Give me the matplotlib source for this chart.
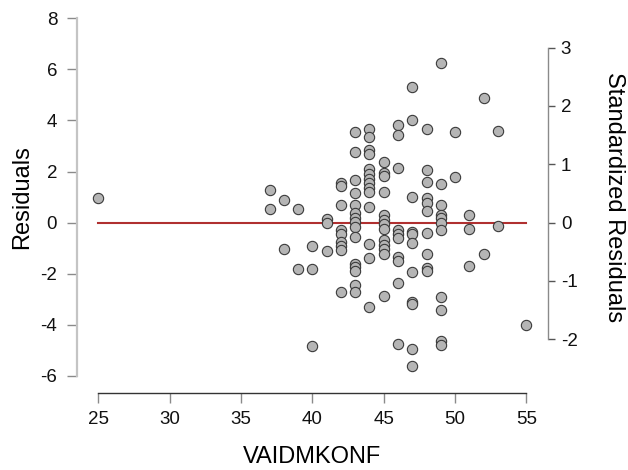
import matplotlib
matplotlib.use("Agg")
import matplotlib.pyplot as plt

plt.rcParams["font.family"] = ["Liberation Sans", "DejaVu Sans"]
plt.rcParams["axes.unicode_minus"] = False

# Predictor values and model residuals
vaidmkonf = (
    [25] + [37] * 2 + [38] * 2 + [39] * 2 + [40] * 3 + [41] * 3 + [42] * 9
    + [43] * 15 + [44] * 14 + [45] * 13 + [46] * 10 + [47] * 11 + [48] * 10
    + [49] * 11 + [50] * 2 + [51] * 3 + [52] * 2 + [53] * 2 + [55]
)
residuals = [
    0.96,
    1.26, 0.55,
    0.90, -1.02,
    0.55, -1.83,
    -0.91, -1.83, -4.81,
    0.14, -0.03, -1.11,
    1.55, 1.42, 0.70, -0.30, -0.45, -0.75, -0.90, -1.08, -2.71,
    3.54, 2.75, 1.65, 1.16, 0.70, 0.39, 0.20, 0.03, -0.17, -0.58, -1.60,
    -1.75, -1.90, -2.45, -2.70,
    3.67, 3.37, 2.83, 2.67, 2.10, 1.90, 1.72, 1.55, 1.36, 1.20, 0.62, -0.85,
    -1.38, -3.32,
    2.37, 1.94, 1.83, 1.20, 0.29, 0.12, -0.04, -0.23, -0.69, -0.89, -1.05,
    -1.22, -2.88,
    3.84, 3.44, 2.15, -0.28, -0.45, -0.62, -1.35, -1.52, -2.35, -4.76,
    5.30, 4.00, 1.02, -0.36, -0.46, -0.78, -1.93, -3.10, -3.20, -4.93, -5.62,
    3.67, 2.05, 1.61, 0.96, 0.78, 0.47, -0.40, -1.24, -1.78, -1.88,
    6.25, 1.53, 0.71, 0.29, 0.17, 0.00, -0.29, -2.91, -3.43, -4.62, -4.80,
    3.54, 1.78,
    0.29, -0.23, -1.71,
    4.89, -1.24,
    3.57, -0.14,
    -4.01,
]

x_ticks = [25, 30, 35, 40, 45, 50, 55]
y_ticks = [-6, -4, -2, 0, 2, 4, 6, 8]
std_ticks = [-2, -1, 0, 1, 2, 3]
residual_sd = 2.284

fig = plt.figure(figsize=(6.28, 4.70), dpi=100)
ax = fig.add_axes([0.1221, 0.1632, 0.7510, 0.7979])

ax.plot([min(x_ticks), max(x_ticks)], [0, 0], color="#b03030", lw=1.5, zorder=2)
ax.scatter(vaidmkonf, residuals, s=55, facecolor="#b5b5b5", edgecolor="#3a3a3a",
           linewidth=0.8, zorder=3)

ax.set_xlim(23.49, 56.53)
ax.set_ylim(-6.68, 8.0)
ax.set_xticks(x_ticks)
ax.set_yticks(y_ticks)

for side in ("top", "right"):
    ax.spines[side].set_visible(False)
ax.spines["left"].set_bounds(min(y_ticks), max(y_ticks))
ax.spines["left"].set_color("#c4c4c4")
ax.spines["left"].set_linewidth(1.6)
ax.spines["bottom"].set_bounds(min(x_ticks), max(x_ticks))
ax.spines["bottom"].set_color("#333333")
ax.spines["bottom"].set_linewidth(1.0)

ax.tick_params(axis="y", length=7, width=1.0, color="#8a8a8a", pad=7,
               labelsize=13.5, labelcolor="#111111")
ax.tick_params(axis="x", length=7, width=1.0, color="#8a8a8a", pad=6,
               labelsize=13.5, labelcolor="#111111")

ax.set_xlabel("VAIDMKONF", fontsize=17)
ax.set_ylabel("Residuals", fontsize=17)
ax.xaxis.set_label_coords(0.499, -0.141)
ax.yaxis.set_label_coords(-0.093, 0.523)

# Secondary axis on the standardized scale
ax2 = ax.twinx()
lo, hi = ax.get_ylim()
ax2.set_ylim(lo / residual_sd, hi / residual_sd)
ax2.set_yticks(std_ticks)
for side in ("top", "left", "bottom"):
    ax2.spines[side].set_visible(False)
ax2.spines["right"].set_bounds(min(std_ticks), max(std_ticks))
ax2.spines["right"].set_color("#8a8a8a")
ax2.spines["right"].set_linewidth(1.0)
ax2.tick_params(axis="y", length=5, width=1.0, color="#555555", pad=4,
                labelsize=13.5, labelcolor="#111111")
ax2.set_ylabel("Standardized Residuals", fontsize=17, rotation=270)
ax2.yaxis.set_label_coords(1.163, 0.523)

fig.savefig("out.png", dpi=100)
